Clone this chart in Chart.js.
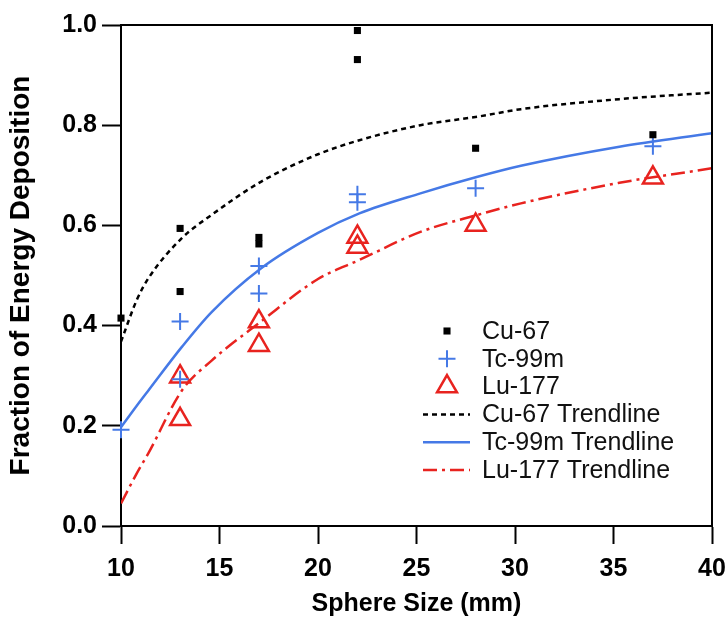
<!DOCTYPE html>
<html>
<head>
<meta charset="utf-8">
<script src="https://cdn.jsdelivr.net/npm/chart.js@4.4.1/dist/chart.umd.min.js"></script>
<style>
  html, body { margin: 0; padding: 0; background: #fff; }
  #wrap { width: 728px; height: 619px; position: relative; }
</style>
</head>
<body>
<div id="wrap"><canvas id="c" width="728" height="619"></canvas></div>
<script>
// ---- data ----
const cuX = [10, 13, 13, 17, 17, 22, 22, 28, 37];
const cuY = [0.415, 0.594, 0.468, 0.576, 0.563, 0.989, 0.931, 0.754, 0.781];
const tcX = [10, 13, 13, 17, 17, 22, 22, 28, 37];
const tcY = [0.192, 0.408, 0.293, 0.519, 0.464, 0.662, 0.646, 0.674, 0.758];
const luX = [13, 13, 17, 17, 22, 22, 28, 37];
const luY = [0.298, 0.213, 0.408, 0.361, 0.577, 0.557, 0.601, 0.695];

const trendX  = [10, 10.8, 11.4, 13.1, 14.6, 17.1, 20, 22.1, 25.2, 28.1, 30.3, 35.3, 40];
const cuTrend = [0.368, 0.451, 0.495, 0.575, 0.621, 0.687, 0.742, 0.770, 0.800, 0.817, 0.832, 0.852, 0.865];
const tcTrend = [0.197, 0.240, 0.271, 0.358, 0.427, 0.514, 0.585, 0.624, 0.664, 0.697, 0.719, 0.757, 0.784];
const luTrend = [0.045, 0.105, 0.146, 0.271, 0.330, 0.408, 0.493, 0.531, 0.587, 0.621, 0.644, 0.685, 0.714];

const xTicks = [10, 15, 20, 25, 30, 35, 40];
const yTicks = [0.0, 0.2, 0.4, 0.6, 0.8, 1.0];

const seriesNames = ['Cu-67', 'Tc-99m', 'Lu-177', 'Cu-67 Trendline', 'Tc-99m Trendline', 'Lu-177 Trendline'];

const BLUE = '#4579e6';
const RED = '#e8231f';
const BLACK = '#000000';

const zip = (xs, ys) => xs.map((x, i) => ({x: x, y: ys[i]}));

const FONT = "'Liberation Sans', Arial, sans-serif";

const frame = {
  id: 'frame',
  afterDraw(chart) {
    const {ctx, chartArea: a} = chart;
    ctx.save();
    ctx.strokeStyle = '#000';
    ctx.lineWidth = 2;
    ctx.beginPath();
    ctx.moveTo(a.left, a.top);
    ctx.lineTo(a.right, a.top);
    ctx.lineTo(a.right, a.bottom);
    ctx.stroke();
    ctx.restore();
  }
};

const legendInside = {
  id: 'legendInside',
  afterDraw(chart) {
    const {ctx} = chart;
    const x0 = 447, tx = 482, y0 = 331, dy = 27.8;
    ctx.save();
    chart.data.datasets.forEach((ds, i) => {
      const y = y0 + i * dy;
      ctx.save();
      if (ds.showLine) {
        ctx.strokeStyle = ds.borderColor;
        ctx.lineWidth = ds.borderWidth;
        ctx.setLineDash(ds.borderDash || []);
        ctx.beginPath();
        ctx.moveTo(423, y);
        ctx.lineTo(470, y);
        ctx.stroke();
      } else {
        ctx.strokeStyle = ds.pointBorderColor;
        ctx.fillStyle = ds.pointBackgroundColor;
        ctx.lineWidth = ds.pointBorderWidth;
        const r = ds.pointRadius;
        ctx.beginPath();
        if (ds.pointStyle === 'rect') {
          const s = Math.SQRT1_2 * r;
          ctx.rect(x0 - s, y - s, 2 * s, 2 * s);
          ctx.fill();
        } else if (ds.pointStyle === 'cross') {
          ctx.moveTo(x0 - r, y); ctx.lineTo(x0 + r, y);
          ctx.moveTo(x0, y - r); ctx.lineTo(x0, y + r);
          ctx.stroke();
        } else if (ds.pointStyle === 'triangle') {
          const h = r;
          ctx.moveTo(x0, y - h);
          ctx.lineTo(x0 + h * Math.sin(2 * Math.PI / 3), y - h * Math.cos(2 * Math.PI / 3));
          ctx.lineTo(x0 + h * Math.sin(4 * Math.PI / 3), y - h * Math.cos(4 * Math.PI / 3));
          ctx.closePath();
          ctx.stroke();
        }
      }
      ctx.restore();
      ctx.fillStyle = '#111';
      ctx.font = "25px " + FONT;
      ctx.textBaseline = 'middle';
      ctx.textAlign = 'left';
      ctx.fillText(ds.label, tx, y + 1);
    });
    ctx.restore();
  }
};

new Chart(document.getElementById('c'), {
  type: 'scatter',
  data: {
    datasets: [
      { label: seriesNames[0], data: zip(cuX, cuY), pointStyle: 'rect', pointRadius: 5, pointHoverRadius: 5,
        pointBackgroundColor: BLACK, pointBorderColor: BLACK, pointBorderWidth: 0, showLine: false, clip: false, order: 2 },
      { label: seriesNames[1], data: zip(tcX, tcY), pointStyle: 'cross', pointRadius: 8.5, pointHoverRadius: 8.5,
        pointBackgroundColor: BLUE, pointBorderColor: BLUE, pointBorderWidth: 2, showLine: false, clip: false, order: 2 },
      { label: seriesNames[2], data: zip(luX, luY), pointStyle: 'triangle', pointRadius: 11.5, pointHoverRadius: 11.5,
        pointBackgroundColor: 'rgba(0,0,0,0)', pointBorderColor: RED, pointBorderWidth: 2.5, showLine: false, clip: false, order: 2 },
      { label: seriesNames[3], data: zip(trendX, cuTrend), showLine: true, pointRadius: 0, borderColor: BLACK,
        borderWidth: 2.5, borderDash: [5, 4], cubicInterpolationMode: 'monotone', fill: false, order: 1 },
      { label: seriesNames[4], data: zip(trendX, tcTrend), showLine: true, pointRadius: 0, borderColor: BLUE,
        borderWidth: 2.5, borderDash: [], cubicInterpolationMode: 'monotone', fill: false, order: 1 },
      { label: seriesNames[5], data: zip(trendX, luTrend), showLine: true, pointRadius: 0, borderColor: RED,
        borderWidth: 2.5, borderDash: [14, 5, 3, 5], cubicInterpolationMode: 'monotone', fill: false, order: 1 }
    ]
  },
  options: {
    responsive: false,
    animation: false,
    devicePixelRatio: 1,
    layout: { padding: { left: 0, right: 16, top: 25, bottom: 0 } },
    plugins: { legend: { display: false }, tooltip: { enabled: false } },
    scales: {
      x: {
        type: 'linear', min: 10, max: 40,
        afterBuildTicks: (s) => { s.ticks = xTicks.map(v => ({value: v})); },
        afterFit: (s) => { s.height = 93; s.paddingLeft = 0; s.paddingRight = 0; },
        border: { display: true, color: '#000', width: 2 },
        grid: { drawOnChartArea: false, drawTicks: true, tickLength: 18, tickWidth: 2, tickColor: '#000' },
        ticks: { color: '#000', padding: 10, font: { family: FONT, size: 25, weight: 'bold' },
                 callback: (v) => String(v), maxRotation: 0 },
        title: { display: true, text: 'Sphere Size (mm)', color: '#000',
                 font: { family: FONT, size: 25, weight: 'bold' }, padding: { top: 0, bottom: 0 } }
      },
      y: {
        type: 'linear', min: 0, max: 1,
        afterBuildTicks: (s) => { s.ticks = yTicks.map(v => ({value: v})); },
        afterFit: (s) => { s.width = 121; },
        border: { display: true, color: '#000', width: 2 },
        grid: { drawOnChartArea: false, drawTicks: true, tickLength: 19, tickWidth: 2, tickColor: '#000' },
        ticks: { color: '#000', padding: 5, font: { family: FONT, size: 25, weight: 'bold' },
                 callback: (v) => Number(v).toFixed(1) },
        title: { display: true, text: 'Fraction of Energy Deposition', color: '#000',
                 font: { family: FONT, size: 28, weight: 'bold' }, padding: { top: 4, bottom: 0 } }
      }
    }
  },
  plugins: [frame, legendInside]
});
</script>
</body>
</html>
